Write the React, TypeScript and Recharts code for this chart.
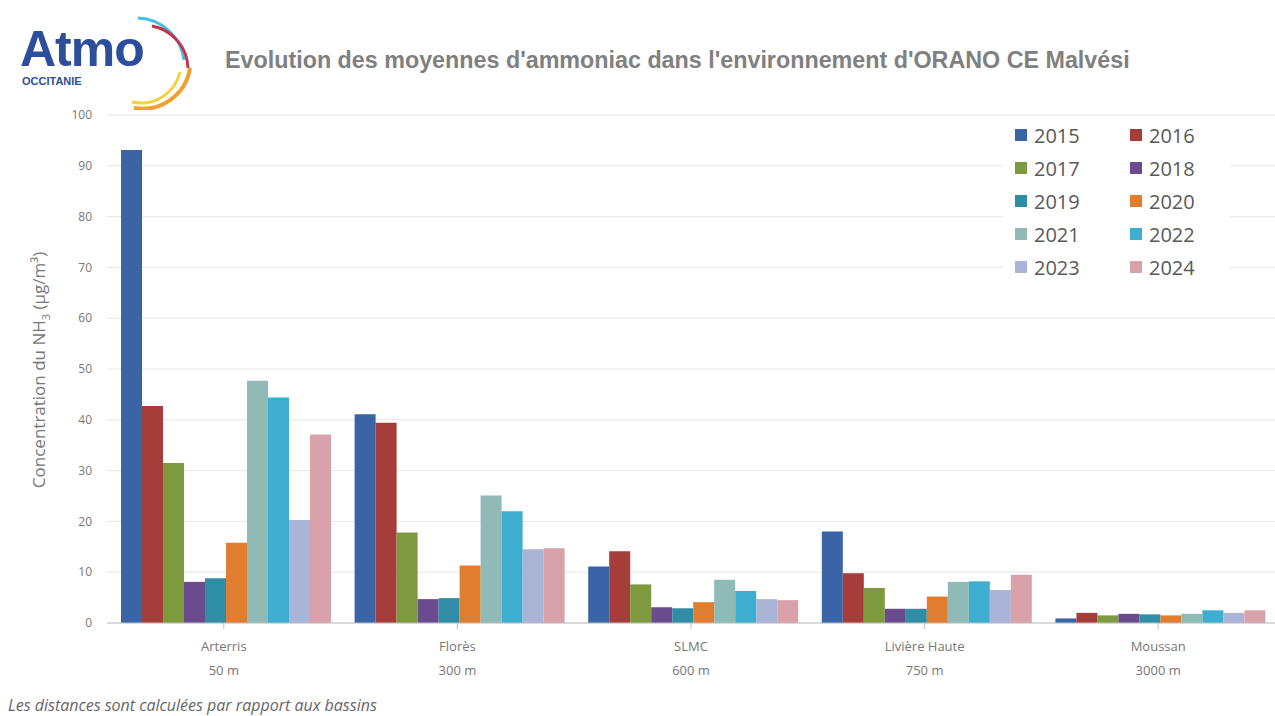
import React from 'react';
import { BarChart, Bar, XAxis, YAxis, CartesianGrid } from 'recharts';

const SITES = ['Arterris', 'Florès', 'SLMC', 'Livière Haute', 'Moussan'];
const DISTANCES = ['50 m', '300 m', '600 m', '750 m', '3000 m'];
const YEARS = ['2015', '2016', '2017', '2018', '2019', '2020', '2021', '2022', '2023', '2024'];
const COLORS = ['#3b64a6', '#a53d3b', '#7e9a3f', '#6a4b8e', '#2f8ea5', '#e07d2f', '#8fbab6', '#3dadd0', '#aab4d6', '#d9a1a9'];

// one array per site, values in YEARS order
const ARTERRIS = [93.1, 42.7, 31.5, 8.1, 8.8, 15.8, 47.7, 44.4, 20.3, 37.1];
const FLORES = [41.1, 39.4, 17.8, 4.7, 4.9, 11.3, 25.1, 22.0, 14.5, 14.7];
const SLMC = [11.1, 14.1, 7.6, 3.1, 2.9, 4.1, 8.5, 6.3, 4.7, 4.5];
const LIVIERE = [18.0, 9.8, 6.9, 2.8, 2.8, 5.2, 8.1, 8.2, 6.5, 9.5];
const MOUSSAN = [0.9, 2.0, 1.5, 1.8, 1.7, 1.5, 1.8, 2.5, 2.0, 2.5];
const Y_TICKS = [0, 10, 20, 30, 40, 50, 60, 70, 80, 90, 100];

const SERIES = [ARTERRIS, FLORES, SLMC, LIVIERE, MOUSSAN];
const data = SITES.map((site, i) => {
  const row: Record<string, string | number> = { site, dist: DISTANCES[i] };
  YEARS.forEach((y, j) => { row[y] = SERIES[i][j]; });
  return row;
});

const FONT = '"Open Sans", sans-serif';
const ARIAL = '"Liberation Sans", Arial, sans-serif';

function SiteTick({ x, y, payload, index }: any) {
  return (
    <g transform={`translate(${x},${y})`}>
      <text textAnchor="middle" fill="#777" fontSize={13} fontFamily={FONT} y={20}>{payload.value}</text>
      <text textAnchor="middle" fill="#777" fontSize={13} fontFamily={FONT} y={44}>{DISTANCES[index]}</text>
    </g>
  );
}

function YearLegend() {
  return (
    <div style={{ position: 'absolute', left: 1003, top: 117, background: '#fff', display: 'grid', gridTemplateColumns: '115px 90px', rowGap: 9, padding: '6px 10px 8px 12px', fontFamily: FONT }}>
      {YEARS.map((y, i) => (
        <div key={y} style={{ display: 'flex', alignItems: 'center', height: 24, fontSize: 20, color: '#595959' }}>
          <span style={{ width: 12, height: 12, background: COLORS[i], marginRight: 7, display: 'inline-block' }} />
          {y}
        </div>
      ))}
    </div>
  );
}

function Logo() {
  return (
    <div style={{ position: 'absolute', left: 18, top: 10, width: 190, height: 100 }}>
      <svg width={190} height={100} style={{ position: 'absolute', left: 0, top: 0 }}>
        <path d="M 120 8 A 48 48 0 0 1 166 50" stroke="#46c0e0" strokeWidth={3} fill="none" />
        <path d="M 134 16 A 44 44 0 0 1 170 58" stroke="#c8324a" strokeWidth={3} fill="none" />
        <path d="M 172 58 A 48 48 0 0 1 116 98" stroke="#f0a030" strokeWidth={4} fill="none" />
        <path d="M 162 62 A 40 40 0 0 1 114 92" stroke="#f6d040" strokeWidth={3} fill="none" />
      </svg>
      <div style={{ position: 'absolute', left: 2, top: 12, fontFamily: ARIAL, fontWeight: 'bold', fontSize: 50, lineHeight: '54px', color: '#2d4f9b', letterSpacing: -1 }}>Atmo</div>
      <div style={{ position: 'absolute', left: 4, top: 65, fontFamily: ARIAL, fontWeight: 'bold', fontSize: 11, lineHeight: '12px', color: '#2d4f9b' }}>OCCITANIE</div>
    </div>
  );
}

export default function App() {
  return (
    <div style={{ position: 'absolute', left: 0, top: 0, width: 1275, height: 716, background: '#fff', overflow: 'hidden' }}>
      <Logo />
      <div style={{ position: 'absolute', left: 225, top: 46, fontFamily: ARIAL, fontWeight: 'bold', fontSize: 23.3, lineHeight: '28px', color: '#808080', whiteSpace: 'nowrap' }}>
        Evolution des moyennes d'ammoniac dans l'environnement d'ORANO CE Malvési
      </div>
      <div style={{ position: 'absolute', left: 40, top: 370, transform: 'translate(-50%,-50%) rotate(-90deg)', fontFamily: FONT, fontSize: 17, color: '#777', whiteSpace: 'nowrap' }}>
        Concentration du NH<sub style={{ fontSize: 11 }}>3</sub> (µg/m³)
      </div>
      <BarChart
        width={1275}
        height={716}
        data={data}
        margin={{ top: 115, right: 0, left: 47, bottom: 33 }}
        barCategoryGap="6%"
        barGap={0}
        style={{ position: 'absolute', left: 0, top: 0 }}
      >
        <CartesianGrid vertical={false} stroke="#e6e6e6" />
        <XAxis dataKey="site" height={60} tick={<SiteTick />} tickLine={{ stroke: '#bfbfbf' }} axisLine={{ stroke: '#bfbfbf' }} interval={0} />
        <YAxis
          width={60}
          domain={[0, 100]}
          ticks={Y_TICKS}
          tickLine={false}
          axisLine={false}
          tickMargin={9}
          tick={{ fill: '#777', fontSize: 12, fontFamily: FONT }}
        />
        {YEARS.map((y, i) => (
          <Bar key={y} dataKey={y} fill={COLORS[i]} isAnimationActive={false} />
        ))}
      </BarChart>
      <YearLegend />
      <div style={{ position: 'absolute', left: 8, top: 694, fontFamily: FONT, fontStyle: 'italic', fontSize: 16, color: '#666' }}>
        Les distances sont calculées par rapport aux bassins
      </div>
    </div>
  );
}
